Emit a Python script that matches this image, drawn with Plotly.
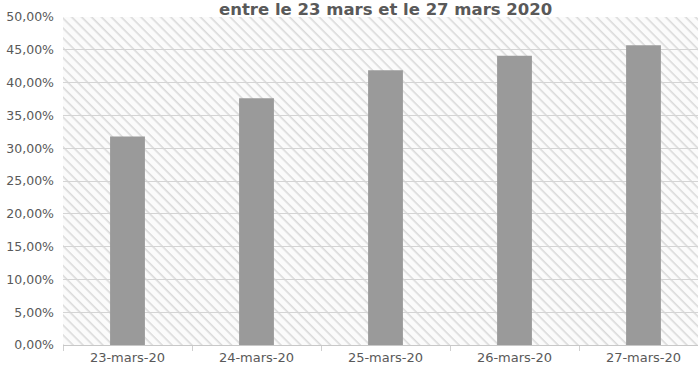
import plotly.graph_objects as go
import base64

categories = ["23-mars-20", "24-mars-20", "25-mars-20", "26-mars-20", "27-mars-20"]
values = [0.318, 0.376, 0.419, 0.441, 0.457]
title_text = "entre le 23 mars et le 27 mars 2020"

W, H = 698, 381
ml, mr, mt, mb = 63, 0, 17, 36
pw, ph = W - ml - mr, H - mt - mb

period = 7
svg = f'''<svg xmlns="http://www.w3.org/2000/svg" width="{pw}" height="{ph}">
<defs><pattern id="p" width="{period}" height="{period}" patternUnits="userSpaceOnUse" patternTransform="rotate(45)">
<rect width="{period}" height="{period}" fill="#fbfbfb"/>
<line x1="0" y1="0" x2="{period}" y2="0" stroke="#dadada" stroke-width="3.2"/>
</pattern></defs>
<rect width="{pw}" height="{ph}" fill="url(#p)"/>
</svg>'''
uri = "data:image/svg+xml;base64," + base64.b64encode(svg.encode()).decode()

fig = go.Figure()
fig.add_trace(go.Bar(
    x=categories, y=values, width=0.27,
    marker=dict(color="#9a9a9a", line=dict(width=0)),
))

fig.update_layout(
    width=W, height=H,
    margin=dict(l=ml, r=mr, t=mt, b=mb),
    paper_bgcolor="white",
    plot_bgcolor="rgba(0,0,0,0)",
    separators=", ",
    showlegend=False,
    font=dict(family="DejaVu Sans", color="#595959"),
    images=[dict(source=uri, xref="paper", yref="paper", x=0, y=1,
                 sizex=1, sizey=1, sizing="stretch", xanchor="left",
                 yanchor="top", layer="below")],
    annotations=[dict(text="<b>" + title_text + "</b>", xref="paper", yref="paper",
                      x=(385 - ml) / pw, y=1, yshift=8, xanchor="center", yanchor="middle",
                      showarrow=False, font=dict(family="DejaVu Sans", size=16.5, color="#595959"))],
)
fig.update_xaxes(
    range=[-0.5, -0.5 + pw / 129.0],
    showgrid=False, showline=True, linecolor="#c8c8c8", linewidth=1,
    ticks="outside", tickson="boundaries", ticklen=5, tickcolor="#d0d0d0",
    tickfont=dict(size=13, color="#595959"), fixedrange=True,
)
fig.update_yaxes(
    range=[0, 0.5], dtick=0.05, tick0=0, tickformat=".2%",
    showgrid=True, gridcolor="#d4d4d4", gridwidth=1,
    zeroline=False, showline=False,
    tickfont=dict(size=12.5, color="#595959"), ticks="", ticklabelstandoff=8,
)

fig.write_html("out.html")
